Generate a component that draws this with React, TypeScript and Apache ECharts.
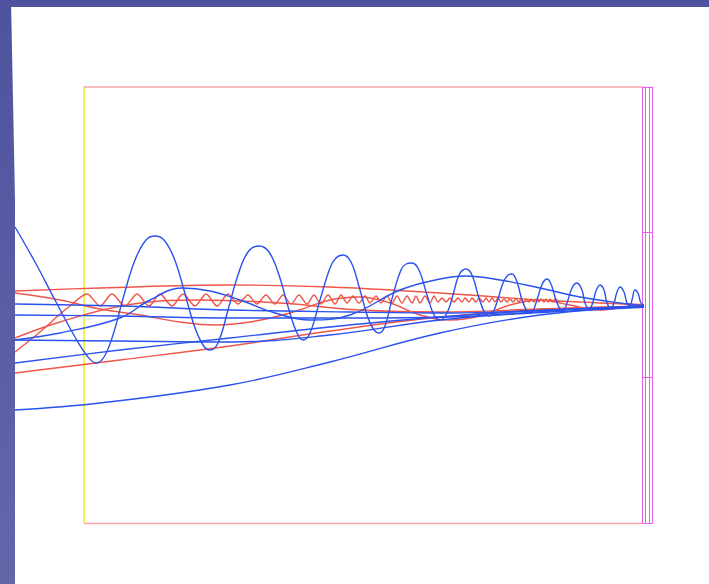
import React, { useEffect, useRef } from "react";
import * as echarts from "echarts";

// x: offset from the framed plot's left edge, y: offset from the plot's mid-line
const blueChirp = [
  [-69, 78], [-49, 43], [-29, 5], [-9, -32], [4, -52], [12, -58], [20, -52], [29, -30], [40, 10], [51, 45],
  [62, 65], [71, 69], [80, 65], [90, 47], [100, 15], [110, -20], [119, -40], [126, -45], [134, -38], [144, -5],
  [154, 30], [164, 53], [175, 59], [185, 53], [195, 30], [205, -5], [213, -28], [219, -35], [226, -28], [236, 5],
  [246, 37], [252, 47], [259, 50], [267, 43], [276, 15], [284, -13], [290, -25], [295, -28], [301, -21], [309, 10],
  [317, 35], [322, 41], [328, 42], [335, 35], [343, 10], [350, -10], [356, -15], [363, -8], [369, 10], [375, 30],
  [382, 36], [388, 30], [395, 7], [401, -8], [406, -11], [412, 0], [419, 22], [424, 30], [428, 31], [433, 23],
  [438, 5], [443, -6], [447, -8], [452, 2], [457, 18], [460, 24], [463, 26], [467, 21], [472, 5], [476, -4],
  [479, -6], [483, 2], [488, 17], [493, 22], [498, 15], [501, 2], [505, -4], [508, 0], [512, 14], [516, 20],
  [520, 15], [523, 2], [527, -3], [530, 2], [533, 13], [536, 18], [540, 13], [543, 2], [546, -1], [548, 5],
  [551, 15], [554, 12], [557, 2], [561, -1],
];
const blueHump = [
  [-69, -35], [-24, -28], [36, -13], [66, 5], [98, 17], [126, 14], [156, 5], [191, -8], [226, -15], [266, -10],
  [316, 15], [356, 26], [381, 29], [416, 25], [456, 17], [496, 8], [536, 2], [564, -1],
];
const blueUpper = [[-69, 1], [36, -1], [146, -5], [266, -7], [366, -8], [466, -5], [564, -1]];
const blueMiddle = [[-69, -10], [36, -11], [146, -13], [266, -13], [366, -12], [466, -7], [564, -2]];
const blueLow = [[-69, -35], [36, -36], [146, -37], [246, -30], [356, -15], [466, -6], [564, -1]];
const blueRise = [[-69, -58], [36, -45], [146, -33], [256, -21], [356, -12], [466, -5], [564, -1]];
const blueBottom = [[-69, -105], [16, -98], [146, -80], [246, -57], [356, -28], [456, -10], [564, -1]];

const redTop = [[-69, 14], [16, 17], [146, 20], [246, 18], [356, 12], [456, 5], [568, 0]];
const redRipple = [
  [-69, -47], [-44, -27], [-24, -9], [-14, -1],
  [3, 11], [16, -1], [28, 11], [41, -1], [53, 11], [65, -1], [76, 11], [88, -1], [99, 11], [111, -1], [122, 11], [133, -1], [144, 11],
  [154, 1], [164, 10], [173, 1], [182, 10], [191, 1], [199, 10], [207, 1], [215, 10], [223, 1], [230, 10], [237, 1], [244, 10], [251, 1], [257, 10],
  [263, 2], [269, 9], [275, 2], [281, 9], [286, 2], [292, 9], [297, 2], [303, 9], [308, 2], [313, 9], [318, 2], [323, 9], [328, 2], [332, 9], [336, 2], [341, 9], [346, 2], [350, 9],
  [354, 3], [358, 7], [362, 3], [366, 7], [370, 3], [374, 7], [378, 3], [381, 7], [385, 3], [388, 7], [392, 3], [395, 7], [399, 3], [402, 7], [405, 3], [408, 7], [411, 3], [414, 7],
  [417, 3], [420, 6], [423, 3], [426, 6], [429, 3], [432, 6], [435, 3], [437, 6], [440, 3], [442, 6], [445, 3], [447, 6], [450, 3], [452, 6], [455, 3], [457, 6], [460, 3], [462, 6], [464, 3], [466, 6], [469, 3], [471, 6],
  [476, 2],
];
const redWave = [
  [-69, 12], [-24, 5], [16, -4], [56, -10], [96, -17], [131, -20], [166, -17], [206, -8], [246, 5], [276, 8],
  [306, 2], [336, -10], [366, -15], [396, -11], [426, 0], [456, 5], [486, 0], [516, -5], [546, -1], [568, 0],
];
const redSlope = [[-69, -33], [-24, -17], [43, 0], [116, 5], [196, 2], [276, -5], [356, -7], [456, -4], [566, -1]];
const redLine = [[-69, -68], [36, -55], [146, -41], [246, -26], [356, -12], [466, -4], [566, -1]];

const BLUE = "#2a52ee";
const RED = "#f0554a";
const PINK = "#f5a8a8";
const MAGENTA = "#ee5cee";
const YELLOW = "#eeee22";

const blueSeries = [blueChirp, blueHump, blueUpper, blueMiddle, blueLow, blueRise, blueBottom];
const redSeries = [redTop, redRipple, redWave, redSlope, redLine];

export default function App() {
  const ref = useRef<HTMLDivElement>(null);

  useEffect(() => {
    if (!ref.current) return;
    const chart = echarts.init(ref.current, undefined, { renderer: "svg" });

    const mk = (data: number[][], color: string, smooth: number) => ({
      type: "line",
      data,
      xAxisIndex: 0,
      yAxisIndex: 0,
      symbol: "none",
      clip: false,
      smooth,
      lineStyle: { color, width: 1.4 },
      emphasis: { disabled: true },
    });

    const rightAxis = (offset: number, ticks: boolean) => ({
      type: "value",
      position: "right",
      offset,
      min: 0,
      max: 3,
      interval: 1,
      axisLine: { show: true, onZero: false, lineStyle: { color: MAGENTA, width: 1 } },
      axisTick: { show: ticks, length: 11, lineStyle: { color: MAGENTA } },
      axisLabel: { show: false },
      splitLine: { show: false },
    });

    chart.setOption({
      animation: false,
      backgroundColor: "#ffffff",
      grid: { left: 15, top: 87, width: 627, height: 436 },
      xAxis: {
        type: "value",
        min: -69,
        max: 558,
        axisLine: { show: false },
        axisTick: { show: false },
        axisLabel: { show: false },
        splitLine: { show: false },
      },
      yAxis: [
        {
          type: "value",
          position: "left",
          offset: -69,
          min: -218,
          max: 218,
          axisLine: { show: true, onZero: false, lineStyle: { color: YELLOW, width: 1.5 } },
          axisTick: { show: false },
          axisLabel: { show: false },
          splitLine: { show: false },
        },
        rightAxis(0, true),
        rightAxis(3, false),
        rightAxis(7, false),
        rightAxis(10.5, false),
      ],
      series: [
        ...redSeries.map((d, i) => mk(d, RED, i === 1 ? 0.3 : 0.4)),
        ...blueSeries.map((d) => mk(d, BLUE, 0.4)),
      ],
      graphic: [
        {
          type: "line",
          z: 1,
          shape: { x1: 84, y1: 87, x2: 642, y2: 87 },
          style: { stroke: PINK, lineWidth: 1.5 },
        },
        {
          type: "line",
          z: 1,
          shape: { x1: 84, y1: 523.5, x2: 642, y2: 523.5 },
          style: { stroke: PINK, lineWidth: 1.5 },
        },
        {
          type: "rect",
          z: 100,
          shape: { x: 0, y: 0, width: 709, height: 7 },
          style: { fill: "#4f529e" },
        },
        {
          type: "polygon",
          z: 100,
          shape: { points: [[0, 0], [11, 0], [15, 200], [15, 584], [0, 584]] },
          style: {
            fill: new echarts.graphic.LinearGradient(0, 0, 0, 1, [
              { offset: 0, color: "#4f529e" },
              { offset: 1, color: "#6466aa" },
            ]),
          },
        },
      ],
    });

    return () => chart.dispose();
  }, []);

  return (
    <div
      ref={ref}
      style={{ position: "fixed", left: 0, top: 0, width: 709, height: 584 }}
    />
  );
}
